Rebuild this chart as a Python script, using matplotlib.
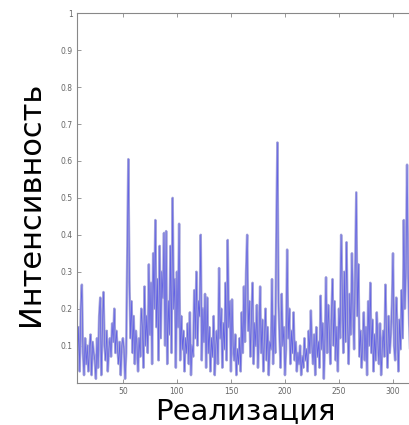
import numpy as np
import matplotlib
matplotlib.use("Agg")
import matplotlib.pyplot as plt

# Номера реализаций и интенсивность
x_start = 8
intensity = [
    0.06, 0.15, 0.03, 0.20, 0.265, 0.08, 0.02, 0.12, 0.05, 0.10,
    0.03, 0.09, 0.13, 0.02, 0.11, 0.08, 0.06, 0.01, 0.12, 0.04,
    0.18, 0.23, 0.02, 0.15, 0.245, 0.10, 0.06, 0.14, 0.03, 0.09,
    0.12, 0.07, 0.16, 0.11, 0.20, 0.08, 0.14, 0.09, 0.05, 0.11,
    0.02, 0.10, 0.12, 0.09, 0.01, 0.08, 0.33, 0.605, 0.28, 0.12,
    0.22, 0.08, 0.18, 0.05, 0.14, 0.10, 0.03, 0.12, 0.07, 0.20,
    0.15, 0.04, 0.26, 0.10, 0.18, 0.08, 0.32, 0.13, 0.27, 0.05,
    0.35, 0.20, 0.44, 0.15, 0.28, 0.06, 0.37, 0.12, 0.30, 0.23,
    0.405, 0.10, 0.41, 0.05, 0.22, 0.13, 0.37, 0.08, 0.50, 0.20,
    0.28, 0.04, 0.30, 0.15, 0.43, 0.06, 0.18, 0.09, 0.14, 0.03,
    0.12, 0.08, 0.16, 0.05, 0.19, 0.02, 0.10, 0.07, 0.25, 0.12,
    0.30, 0.10, 0.22, 0.18, 0.40, 0.06, 0.20, 0.11, 0.24, 0.04,
    0.23, 0.08, 0.15, 0.03, 0.12, 0.07, 0.18, 0.02, 0.10, 0.14,
    0.05, 0.31, 0.12, 0.20, 0.04, 0.16, 0.09, 0.27, 0.06, 0.386,
    0.15, 0.22, 0.03, 0.225, 0.10, 0.06, 0.13, 0.02, 0.09, 0.05,
    0.12, 0.03, 0.19, 0.08, 0.26, 0.11, 0.30, 0.40, 0.14, 0.22,
    0.07, 0.18, 0.27, 0.05, 0.16, 0.10, 0.21, 0.04, 0.13, 0.26,
    0.08, 0.17, 0.03, 0.12, 0.20, 0.06, 0.15, 0.02, 0.11, 0.09,
    0.28, 0.05, 0.18, 0.08, 0.40, 0.65, 0.22, 0.12, 0.04, 0.24,
    0.10, 0.15, 0.02, 0.09, 0.36, 0.12, 0.20, 0.05, 0.14, 0.08,
    0.19, 0.06, 0.11, 0.03, 0.08, 0.05, 0.10, 0.02, 0.07, 0.04,
    0.12, 0.06, 0.09, 0.03, 0.14, 0.08, 0.195, 0.10, 0.05, 0.13,
    0.02, 0.15, 0.07, 0.11, 0.04, 0.235, 0.09, 0.16, 0.01, 0.12,
    0.285, 0.08, 0.21, 0.14, 0.05, 0.18, 0.28, 0.10, 0.22, 0.06,
    0.15, 0.03, 0.20, 0.12, 0.40, 0.25, 0.08, 0.30, 0.11, 0.38,
    0.16, 0.05, 0.24, 0.13, 0.35, 0.20, 0.09, 0.30, 0.515, 0.18,
    0.32, 0.07, 0.14, 0.04, 0.11, 0.19, 0.06, 0.15, 0.02, 0.22,
    0.10, 0.27, 0.08, 0.17, 0.03, 0.13, 0.06, 0.19, 0.11, 0.05,
    0.16, 0.02, 0.09, 0.14, 0.07, 0.265, 0.12, 0.04, 0.18, 0.08,
    0.13, 0.21, 0.35, 0.10, 0.06, 0.23, 0.15, 0.03, 0.17, 0.09,
    0.25, 0.12, 0.44, 0.20, 0.31, 0.59, 0.30, 0.16, 0.07, 0.24,
    0.12, 0.20, 0.09,
]
x_ticks = [50, 100, 150, 200, 250, 300]
y_ticks = [0.1, 0.2, 0.3, 0.4, 0.5, 0.6, 0.7, 0.8, 0.9, 1]
y_tick_labels = ["0.1", "0.2", "0.3", "0.4", "0.5", "0.6", "0.7", "0.8", "0.9", "1"]

realization = np.arange(x_start, x_start + len(intensity))

fig = plt.figure(figsize=(4.09, 4.25), dpi=100)
# оси уходят за правый край картинки, как на оригинале
ax = fig.add_axes([0.1883, 0.1, 0.8254, 0.8687])

# широкая бледная линия + тонкая синяя сердцевина
ax.plot(realization, intensity, color="#a6a6da", lw=1.8)
ax.plot(realization, intensity, color="#2a2aee", lw=0.5, alpha=0.55)

ax.set_xlim(7.5, 320)
ax.set_ylim(0, 1)
ax.set_xticks(x_ticks)
ax.set_yticks(y_ticks)
ax.set_yticklabels(y_tick_labels)

ax.tick_params(direction="in", length=3, width=0.6, colors="#888888",
               labelcolor="#666666", labelsize=5.5, top=True, right=True, pad=3)
for s in ax.spines.values():
    s.set_color("#888888")
    s.set_linewidth(0.8)

fig.text(0.075, 0.52, "Интенсивность", rotation=90, fontsize=22,
         ha="center", va="center")
fig.text(0.60, 0.033, "Реализация", fontsize=21, ha="center", va="center")

fig.savefig("out.png", dpi=100)
